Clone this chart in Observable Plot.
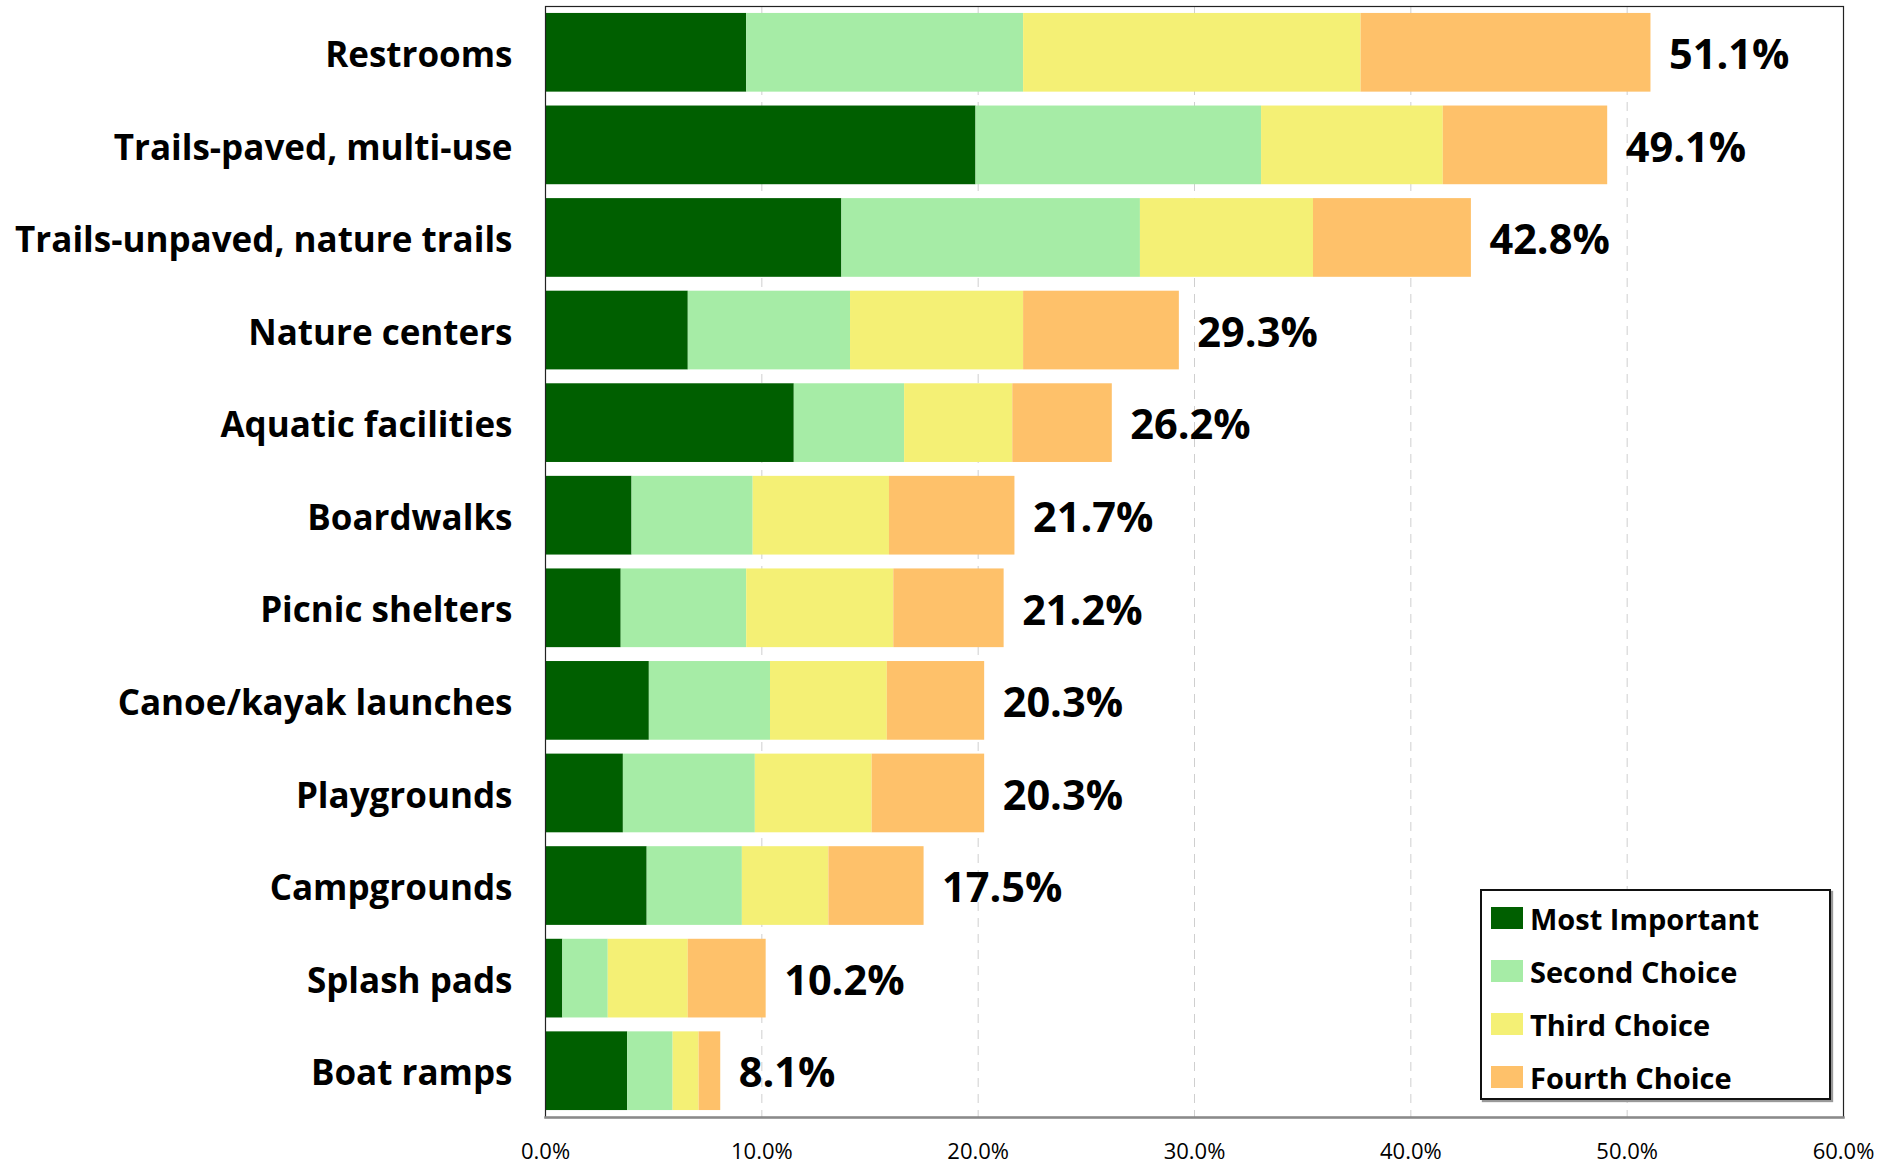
<!DOCTYPE html>
<html>
<head>
<meta charset="utf-8">
<script src="https://cdn.jsdelivr.net/npm/d3@7"></script>
<script src="https://cdn.jsdelivr.net/npm/@observablehq/plot@0.6"></script>
<style>
  html, body { margin: 0; padding: 0; background: #fff; }
  #wrap { position: relative; width: 1891px; height: 1165px; font-family: "Open Sans", sans-serif; }
  #legend {
    position: absolute; left: 1480px; top: 889px; width: 351px; height: 211px;
    border: 2.5px solid #111; box-shadow: 2px 2px 1px #999; background: #fff; box-sizing: border-box;
  }
  .item { position: absolute; left: 9px; height: 40px; display: flex; align-items: center;
    font-family: "Open Sans", sans-serif; font-weight: 700; font-size: 29px; color: #000; white-space: nowrap; }
  .sw { width: 32px; height: 22px; margin-right: 7px; }
</style>
</head>
<body>
<div id="wrap"></div>
<script>
const categories = ["Restrooms", "Trails-paved, multi-use", "Trails-unpaved, nature trails", "Nature centers",
  "Aquatic facilities", "Boardwalks", "Picnic shelters", "Canoe/kayak launches", "Playgrounds",
  "Campgrounds", "Splash pads", "Boat ramps"];
const choices = ["Most Important", "Second Choice", "Third Choice", "Fourth Choice"];
const mostImportant = [9.3, 19.9, 13.7, 6.6, 11.5, 4.0, 3.5, 4.8, 3.6, 4.7, 0.8, 3.8];
const secondChoice  = [12.8, 13.2, 13.8, 7.5, 5.1, 5.6, 5.8, 5.6, 6.1, 4.4, 2.1, 2.1];
const thirdChoice   = [15.6, 8.4, 8.0, 8.0, 5.0, 6.3, 6.8, 5.4, 5.4, 4.0, 3.7, 1.2];
const fourthChoice  = [13.4, 7.6, 7.3, 7.2, 4.6, 5.8, 5.1, 4.5, 5.2, 4.4, 3.6, 1.0];
const totals        = [51.1, 49.1, 42.8, 29.3, 26.2, 21.7, 21.2, 20.3, 20.3, 17.5, 10.2, 8.1];
const xTicks = [0, 10, 20, 30, 40, 50, 60];
const colors = ["#005f00", "#a6eca6", "#f4f075", "#fec16a"];

const series = [mostImportant, secondChoice, thirdChoice, fourthChoice];
const data = [];
categories.forEach((c, i) => {
  choices.forEach((ch, j) => data.push({category: c, choice: ch, value: series[j][i]}));
});
const totalRows = categories.map((c, i) => ({category: c, total: totals[i]}));

const chart = Plot.plot({
  width: 1891,
  height: 1165,
  marginLeft: 545,
  marginRight: 48,
  marginTop: 6,
  marginBottom: 48,
  style: {fontFamily: "'Open Sans', sans-serif", color: "#000", background: "#fff"},
  x: {domain: [0, 60]},
  y: {domain: categories, paddingInner: 0.15, paddingOuter: 0.075, round: false},
  color: {domain: choices, range: colors},
  marks: [
    Plot.gridX(xTicks.slice(1, -1), {stroke: "#cfcfcf", strokeOpacity: 1, strokeDasharray: "9,7", strokeWidth: 1}),
    Plot.barX(data, Plot.stackX({x: "value", y: "category", fill: "choice", order: choices})),
    Plot.text(totalRows, {x: "total", y: "category", text: d => d.total.toFixed(1) + "%",
      textAnchor: "start", dx: 18, dy: 3, fontSize: 41.5, fontWeight: "bold", fill: "#000"}),
    Plot.axisY({tickSize: 0, tickPadding: 33, dy: 3, fontSize: 35, fontWeight: "bold", label: null}),
    Plot.axisX({ticks: xTicks, tickSize: 0, tickPadding: 26, fontSize: 22, label: null,
      tickFormat: d => d.toFixed(1) + "%"}),
    Plot.frame({stroke: "#222", strokeWidth: 1.2}),
    Plot.frame({anchor: "bottom", stroke: "#8a8a8a", strokeWidth: 2.5})
  ]
});
const wrap = document.getElementById("wrap");
wrap.appendChild(chart);

const legend = document.createElement("div");
legend.id = "legend";
choices.forEach((ch, j) => {
  const it = document.createElement("div");
  it.className = "item";
  it.style.top = (7 + j * 53) + "px";
  const sw = document.createElement("div");
  sw.className = "sw";
  sw.style.background = colors[j];
  const t = document.createElement("span");
  t.textContent = ch;
  it.appendChild(sw); it.appendChild(t);
  legend.appendChild(it);
});
wrap.appendChild(legend);
</script>
</body>
</html>
